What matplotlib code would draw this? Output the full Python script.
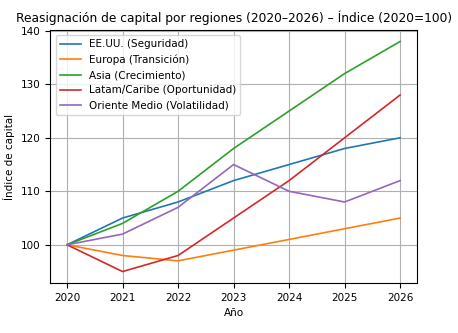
import matplotlib.pyplot as plt

years = [2020, 2021, 2022, 2023, 2024, 2025, 2026]
eeuu = [100, 105, 108, 112, 115, 118, 120]
europa = [100, 98, 97, 99, 101, 103, 105]
asia = [100, 104, 110, 118, 125, 132, 138]
latam = [100, 95, 98, 105, 112, 120, 128]
oriente = [100, 102, 107, 115, 110, 108, 112]

fig, ax = plt.subplots(figsize=(4.58, 3.33), dpi=100)
fig.subplots_adjust(left=0.11, right=0.91, top=0.91, bottom=0.15)

ax.plot(years, eeuu, color='#1f77b4', linewidth=1.2, label='EE.UU. (Seguridad)')
ax.plot(years, europa, color='#ff7f0e', linewidth=1.2, label='Europa (Transición)')
ax.plot(years, asia, color='#2ca02c', linewidth=1.2, label='Asia (Crecimiento)')
ax.plot(years, latam, color='#d62728', linewidth=1.2, label='Latam/Caribe (Oportunidad)')
ax.plot(years, oriente, color='#9467bd', linewidth=1.2, label='Oriente Medio (Volatilidad)')

ax.set_title('Reasignación de capital por regiones (2020–2026) – Índice (2020=100)', fontsize=8.8)
ax.set_xlabel('Año', fontsize=7.5)
ax.set_ylabel('Índice de capital', fontsize=7.5)
ax.set_xticks(years)
ax.tick_params(labelsize=7.5)
ax.grid(True, color='#b0b0b0', linewidth=0.8)
ax.legend(loc='upper left', fontsize=7.5)

fig.savefig('out.png', dpi=100)
